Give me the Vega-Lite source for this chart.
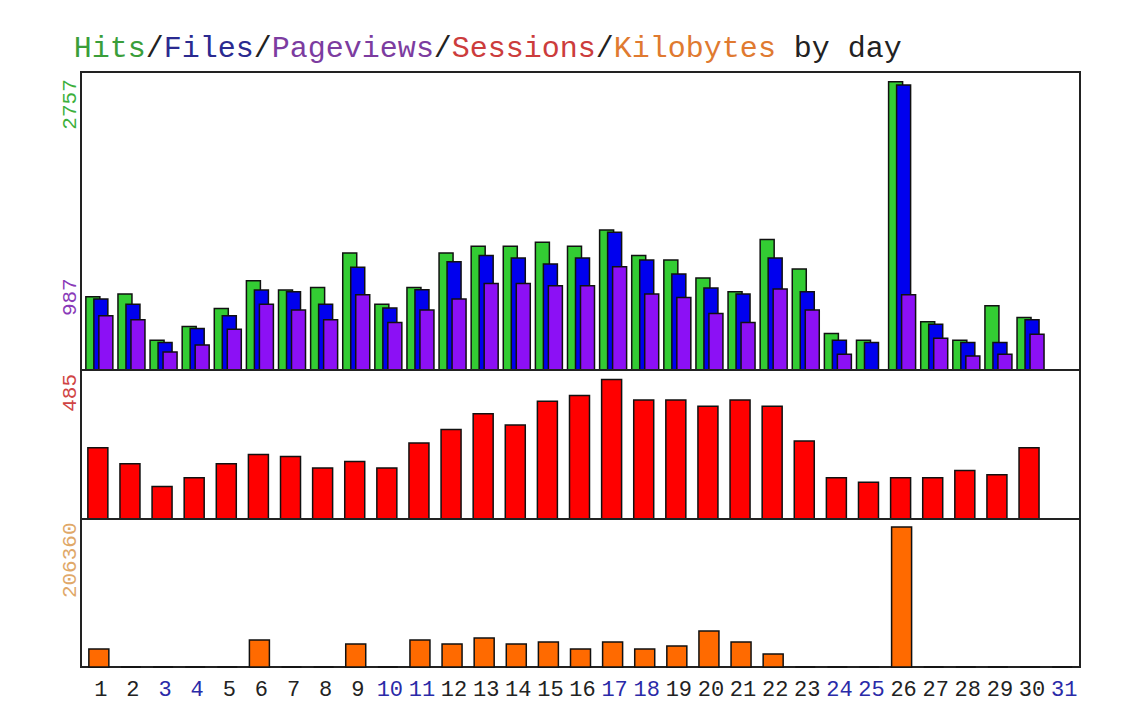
{
  "$schema": "https://vega.github.io/schema/vega-lite/v6.json",
  "background": "white",
  "padding": {"left": 57, "top": 31, "right": 40, "bottom": 25},
  "autosize": {"type": "pad"},
  "spacing": 0,
  "bounds": "flush",
  "config": {
    "view": {"stroke": "#222", "strokeWidth": 2},
    "axis": {"grid": false, "ticks": false, "domain": false, "labelFont": "Liberation Mono", "format": "d"},
    "text": {"align": "left", "baseline": "alphabetic", "font": "Liberation Mono", "fontSize": 30}
  },
  "datasets": {
    "days": [
      {"day": 1, "hits": 700, "files": 678, "pages": 518, "sessions": 248, "kbytes": 26500},
      {"day": 2, "hits": 726, "files": 630, "pages": 480, "sessions": 192, "kbytes": 0},
      {"day": 3, "hits": 285, "files": 262, "pages": 173, "sessions": 113, "kbytes": 0},
      {"day": 4, "hits": 416, "files": 397, "pages": 240, "sessions": 143, "kbytes": 0},
      {"day": 5, "hits": 589, "files": 518, "pages": 390, "sessions": 192, "kbytes": 0},
      {"day": 6, "hits": 854, "files": 765, "pages": 630, "sessions": 224, "kbytes": 39800},
      {"day": 7, "hits": 765, "files": 748, "pages": 573, "sessions": 217, "kbytes": 0},
      {"day": 8, "hits": 790, "files": 630, "pages": 480, "sessions": 177, "kbytes": 0},
      {"day": 9, "hits": 1120, "files": 982, "pages": 720, "sessions": 200, "kbytes": 33900},
      {"day": 10, "hits": 630, "files": 592, "pages": 454, "sessions": 177, "kbytes": 0},
      {"day": 11, "hits": 790, "files": 768, "pages": 573, "sessions": 264, "kbytes": 39800},
      {"day": 12, "hits": 1120, "files": 1036, "pages": 678, "sessions": 311, "kbytes": 33900},
      {"day": 13, "hits": 1183, "files": 1094, "pages": 828, "sessions": 366, "kbytes": 42700},
      {"day": 14, "hits": 1183, "files": 1072, "pages": 828, "sessions": 327, "kbytes": 33900},
      {"day": 15, "hits": 1222, "files": 1014, "pages": 806, "sessions": 409, "kbytes": 36900},
      {"day": 16, "hits": 1183, "files": 1072, "pages": 806, "sessions": 429, "kbytes": 26500},
      {"day": 17, "hits": 1340, "files": 1318, "pages": 987, "sessions": 485, "kbytes": 36900},
      {"day": 18, "hits": 1094, "files": 1052, "pages": 726, "sessions": 414, "kbytes": 26500},
      {"day": 19, "hits": 1052, "files": 918, "pages": 694, "sessions": 414, "kbytes": 31000},
      {"day": 20, "hits": 880, "files": 784, "pages": 540, "sessions": 392, "kbytes": 53000},
      {"day": 21, "hits": 748, "files": 726, "pages": 454, "sessions": 414, "kbytes": 36900},
      {"day": 22, "hits": 1247, "files": 1072, "pages": 774, "sessions": 392, "kbytes": 19200},
      {"day": 23, "hits": 966, "files": 748, "pages": 573, "sessions": 271, "kbytes": 0},
      {"day": 24, "hits": 348, "files": 285, "pages": 151, "sessions": 143, "kbytes": 0},
      {"day": 25, "hits": 285, "files": 262, "pages": 0, "sessions": 128, "kbytes": 0},
      {"day": 26, "hits": 2757, "files": 2725, "pages": 720, "sessions": 143, "kbytes": 206360},
      {"day": 27, "hits": 461, "files": 438, "pages": 304, "sessions": 143, "kbytes": 0},
      {"day": 28, "hits": 285, "files": 262, "pages": 134, "sessions": 169, "kbytes": 0},
      {"day": 29, "hits": 614, "files": 262, "pages": 151, "sessions": 154, "kbytes": 0},
      {"day": 30, "hits": 502, "files": 480, "pages": 343, "sessions": 248, "kbytes": 0},
      {"day": 31, "hits": 0, "files": 0, "pages": 0, "sessions": 0, "kbytes": 0}
    ],
    "title": [
      {"part": "Hits", "text": "Hits"},
      {"part": "s1", "text": "/"},
      {"part": "Files", "text": "Files"},
      {"part": "s2", "text": "/"},
      {"part": "Pageviews", "text": "Pageviews"},
      {"part": "s3", "text": "/"},
      {"part": "Sessions", "text": "Sessions"},
      {"part": "s4", "text": "/"},
      {"part": "Kilobytes", "text": "Kilobytes"},
      {"part": "tail", "text": "by day"}
    ]
  },
  "vconcat": [
    {
      "width": 999,
      "height": 298,
      "layer": [
        {
          "data": {"name": "days"},
          "mark": {"type": "bar", "width": 14, "xOffset": -6, "color": "#33cc33", "stroke": "#111", "strokeWidth": 1.5},
          "encoding": {
            "x": {"field": "day", "type": "ordinal", "scale": {"domain": [1,2,3,4,5,6,7,8,9,10,11,12,13,14,15,16,17,18,19,20,21,22,23,24,25,26,27,28,29,30,31], "paddingInner": 0, "paddingOuter": 0.056}, "axis": null},
            "y": {"field": "hits", "type": "quantitative", "scale": {"domain": [0, 2850], "nice": false},
              "axis": {"title": null, "values": [987, 2757], "format": "d", "labelAngle": -90, "labelAlign": "right", "labelBaseline": "bottom", "labelPadding": 2, "labelFontSize": 21,
                "labelColor": {"condition": {"test": "datum.value == 987", "value": "#8a3ab8"}, "value": "#3cb03c"},
                "labelOffset": {"condition": {"test": "datum.value == 987", "value": 11}, "value": -3}}}
          }
        },
        {
          "data": {"name": "days"},
          "mark": {"type": "bar", "width": 14, "xOffset": 2, "color": "#0000ee", "stroke": "#111", "strokeWidth": 1.5},
          "encoding": {
            "x": {"field": "day", "type": "ordinal", "axis": null},
            "y": {"field": "files", "type": "quantitative",
              "axis": {"title": null, "values": [987, 2757], "format": "d", "labelAngle": -90, "labelAlign": "right", "labelBaseline": "bottom", "labelPadding": 2, "labelFontSize": 21,
                "labelColor": {"condition": {"test": "datum.value == 987", "value": "#8a3ab8"}, "value": "#3cb03c"},
                "labelOffset": {"condition": {"test": "datum.value == 987", "value": 11}, "value": -3}}}
          }
        },
        {
          "data": {"name": "days"},
          "mark": {"type": "bar", "width": 14, "xOffset": 7, "color": "#8c10f5", "stroke": "#111", "strokeWidth": 1.5},
          "encoding": {
            "x": {"field": "day", "type": "ordinal", "axis": null},
            "y": {"field": "pages", "type": "quantitative",
              "axis": {"title": null, "values": [987, 2757], "format": "d", "labelAngle": -90, "labelAlign": "right", "labelBaseline": "bottom", "labelPadding": 2, "labelFontSize": 21,
                "labelColor": {"condition": {"test": "datum.value == 987", "value": "#8a3ab8"}, "value": "#3cb03c"},
                "labelOffset": {"condition": {"test": "datum.value == 987", "value": 11}, "value": -3}}}
          }
        },
        {
          "data": {"name": "title"},
          "layer": [
            {"transform": [{"filter": "datum.part == 'Hits'"}], "mark": {"type": "text", "dx": -25, "color": "#3a9e3a"}},
            {"transform": [{"filter": "datum.part == 's1'"}], "mark": {"type": "text", "dx": 47, "color": "#222222"}},
            {"transform": [{"filter": "datum.part == 'Files'"}], "mark": {"type": "text", "dx": 65, "color": "#2a2a90"}},
            {"transform": [{"filter": "datum.part == 's2'"}], "mark": {"type": "text", "dx": 155, "color": "#222222"}},
            {"transform": [{"filter": "datum.part == 'Pageviews'"}], "mark": {"type": "text", "dx": 173, "color": "#7c3ca0"}},
            {"transform": [{"filter": "datum.part == 's3'"}], "mark": {"type": "text", "dx": 335, "color": "#222222"}},
            {"transform": [{"filter": "datum.part == 'Sessions'"}], "mark": {"type": "text", "dx": 353, "color": "#cc3c3c"}},
            {"transform": [{"filter": "datum.part == 's4'"}], "mark": {"type": "text", "dx": 497, "color": "#222222"}},
            {"transform": [{"filter": "datum.part == 'Kilobytes'"}], "mark": {"type": "text", "dx": 515, "color": "#e07a30"}},
            {"transform": [{"filter": "datum.part == 'tail'"}], "mark": {"type": "text", "dx": 695, "color": "#222222"}}
          ],
          "encoding": {
            "x": {"datum": 1, "type": "ordinal", "axis": null},
            "y": {"datum": 2994, "type": "quantitative",
              "axis": {"title": null, "values": [987, 2757], "format": "d", "labelAngle": -90, "labelAlign": "right", "labelBaseline": "bottom", "labelPadding": 2, "labelFontSize": 21,
                "labelColor": {"condition": {"test": "datum.value == 987", "value": "#8a3ab8"}, "value": "#3cb03c"},
                "labelOffset": {"condition": {"test": "datum.value == 987", "value": 11}, "value": -3}}},
            "text": {"field": "text"}
          }
        }
      ]
    },
    {
      "width": 999,
      "height": 149,
      "data": {"name": "days"},
      "mark": {"type": "bar", "width": 20, "xOffset": -1, "color": "#ff0000", "stroke": "#111", "strokeWidth": 1.5},
      "encoding": {
        "x": {"field": "day", "type": "ordinal", "scale": {"domain": [1,2,3,4,5,6,7,8,9,10,11,12,13,14,15,16,17,18,19,20,21,22,23,24,25,26,27,28,29,30,31], "paddingInner": 0, "paddingOuter": 0.056}, "axis": null},
        "y": {"field": "sessions", "type": "quantitative", "scale": {"domain": [0, 518], "nice": false},
          "axis": {"title": null, "values": [485], "format": "d", "labelAngle": -90, "labelAlign": "right", "labelBaseline": "bottom", "labelPadding": 2, "labelFontSize": 21, "labelColor": "#d04444", "labelOffset": -6}}
      }
    },
    {
      "width": 999,
      "height": 148,
      "data": {"name": "days"},
      "mark": {"type": "bar", "width": 20, "color": "#ff6a00", "stroke": "#111", "strokeWidth": 1.5},
      "encoding": {
        "x": {"field": "day", "type": "ordinal", "scale": {"domain": [1,2,3,4,5,6,7,8,9,10,11,12,13,14,15,16,17,18,19,20,21,22,23,24,25,26,27,28,29,30,31], "paddingInner": 0, "paddingOuter": 0.056},
          "axis": {"title": null, "labelAngle": 0, "labelFontSize": 22, "labelPadding": 11, "labelOffset": 2, "labelOverlap": false, "labelBound": false,
            "labelColor": {"condition": {"test": "indexof([3,4,10,11,17,18,24,25,31], datum.value) >= 0", "value": "#2a2aa8"}, "value": "#222222"}}},
        "y": {"field": "kbytes", "type": "quantitative", "scale": {"domain": [0, 218150], "nice": false},
          "axis": {"title": null, "values": [206360], "format": "d", "labelAngle": -90, "labelAlign": "right", "labelBaseline": "bottom", "labelPadding": 2, "labelFontSize": 21, "labelColor": "#e0a868", "labelOffset": -5}}
      }
    }
  ]
}
